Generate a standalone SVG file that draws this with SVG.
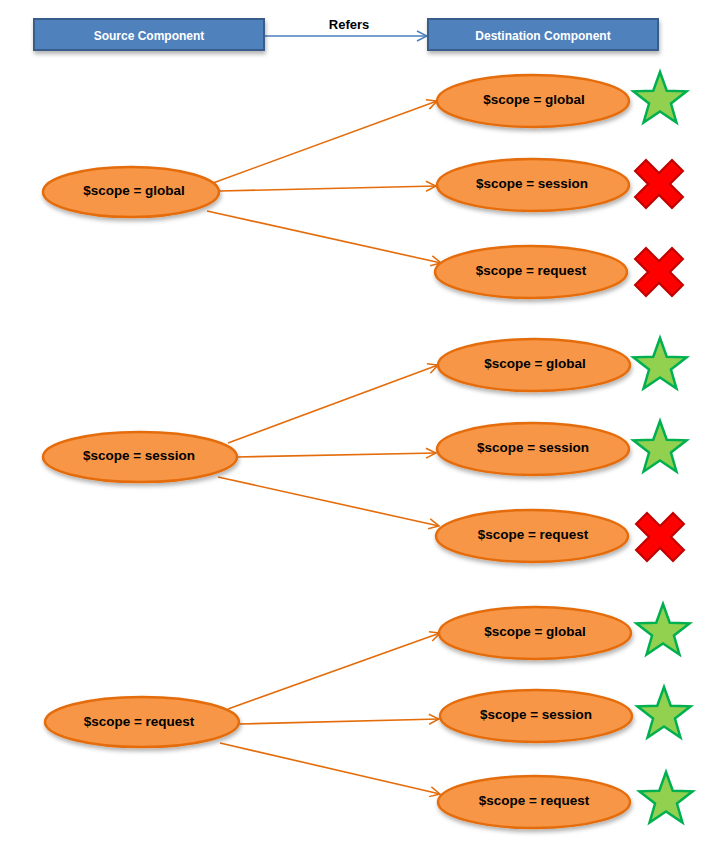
<svg xmlns="http://www.w3.org/2000/svg" width="720" height="851" viewBox="0 0 720 851">
<style>
.hdr{fill:#4F81BD;stroke:#385D8A;stroke-width:2}
.hdrt{fill:#fff;font-family:"Liberation Sans",Arial,sans-serif;font-weight:bold;font-size:12px;text-anchor:middle}
.ell{fill:#F79646;stroke:#E46C0A;stroke-width:2.5}
.lbl{fill:#000;font-family:"Liberation Sans",Arial,sans-serif;font-weight:bold;font-size:13.5px;text-anchor:middle}
.con{stroke:#E46C0A;stroke-width:1.6;fill:none;marker-end:url(#oa)}
.star{fill:#92D050;stroke:#00B050;stroke-width:2.5;stroke-linejoin:miter}
.cross{fill:#FF0000;stroke:#C00000;stroke-width:2}
</style>
<defs>
<filter id="sh" x="-20%" y="-20%" width="140%" height="160%">
<feDropShadow dx="1" dy="3" stdDeviation="2" flood-color="#000" flood-opacity="0.3"/>
</filter>
<marker id="oa" viewBox="0 0 12 12" refX="11" refY="6" markerWidth="12" markerHeight="12" markerUnits="userSpaceOnUse" orient="auto">
<path d="M1,1 L11,6 L1,11" fill="none" stroke="#E46C0A" stroke-width="1.5"/>
</marker>
<marker id="ob" viewBox="0 0 12 12" refX="11" refY="6" markerWidth="12" markerHeight="12" markerUnits="userSpaceOnUse" orient="auto">
<path d="M1,1 L11,6 L1,11" fill="none" stroke="#4A7EBB" stroke-width="1.5"/>
</marker>
<path id="starp" d="M0,-28 L6.76,-9.3 L26.63,-8.65 L10.94,3.55 L16.46,22.65 L0,11.5 L-16.46,22.65 L-10.94,3.55 L-26.63,-8.65 L-6.76,-9.3 Z"/>
<path id="crossp" d="M-24,-13 L-13,-24 L0,-11 L13,-24 L24,-13 L11,0 L24,13 L13,24 L0,11 L-13,24 L-24,13 L-11,0 Z"/>
</defs>
<rect width="720" height="851" fill="#fff"/>

<g id="connectors">
<line x1="264" y1="36" x2="427" y2="36" stroke="#4A7EBB" stroke-width="1.5" marker-end="url(#ob)"/>
<line class="con" x1="213" y1="183" x2="437" y2="101"/>
<line class="con" x1="220" y1="191" x2="436" y2="186"/>
<line class="con" x1="207" y1="211" x2="441" y2="263"/>
<line class="con" x1="228" y1="443" x2="438" y2="365"/>
<line class="con" x1="237" y1="457" x2="436" y2="453"/>
<line class="con" x1="218" y1="477" x2="439" y2="526"/>
<line class="con" x1="228" y1="709" x2="440" y2="633"/>
<line class="con" x1="240" y1="724" x2="439" y2="719"/>
<line class="con" x1="220" y1="743" x2="440" y2="794"/>
</g>
<text x="349" y="29" font-family="'Liberation Sans',Arial,sans-serif" font-weight="bold" font-size="13px" text-anchor="middle">Refers</text>

<g id="source-header"><rect class="hdr" x="34" y="19" width="230" height="31" filter="url(#sh)"/><text class="hdrt" x="149" y="39.5">Source Component</text></g>
<g id="dest-header"><rect class="hdr" x="428" y="19" width="230" height="31" filter="url(#sh)"/><text class="hdrt" x="543" y="39.5">Destination Component</text></g>

<g id="src-global"><ellipse class="ell" cx="131" cy="192" rx="88" ry="25" filter="url(#sh)"/><text class="lbl" x="134" y="195">$scope = global</text></g>
<g id="g-dst-global"><ellipse class="ell" cx="533" cy="101" rx="96" ry="26" filter="url(#sh)"/><text class="lbl" x="534" y="104">$scope = global</text></g>
<g id="g-dst-session"><ellipse class="ell" cx="533" cy="185" rx="96" ry="26" filter="url(#sh)"/><text class="lbl" x="532" y="188">$scope = session</text></g>
<g id="g-dst-request"><ellipse class="ell" cx="531" cy="272" rx="96" ry="26" filter="url(#sh)"/><text class="lbl" x="531" y="275">$scope = request</text></g>
<g id="g-mark-1"><use href="#starp" class="star" transform="translate(660,100)"/></g>
<g id="g-mark-2"><use href="#crossp" class="cross" transform="translate(659,184)"/></g>
<g id="g-mark-3"><use href="#crossp" class="cross" transform="translate(659,272)"/></g>

<g id="src-session"><ellipse class="ell" cx="140" cy="457" rx="97" ry="25" filter="url(#sh)"/><text class="lbl" x="139" y="460">$scope = session</text></g>
<g id="s-dst-global"><ellipse class="ell" cx="534" cy="365" rx="96" ry="26" filter="url(#sh)"/><text class="lbl" x="535" y="368">$scope = global</text></g>
<g id="s-dst-session"><ellipse class="ell" cx="533" cy="449" rx="96" ry="26" filter="url(#sh)"/><text class="lbl" x="533" y="452">$scope = session</text></g>
<g id="s-dst-request"><ellipse class="ell" cx="532" cy="536" rx="96" ry="26" filter="url(#sh)"/><text class="lbl" x="533" y="539">$scope = request</text></g>
<g id="s-mark-1"><use href="#starp" class="star" transform="translate(660,366)"/></g>
<g id="s-mark-2"><use href="#starp" class="star" transform="translate(660,449)"/></g>
<g id="s-mark-3"><use href="#crossp" class="cross" transform="translate(660,537)"/></g>

<g id="src-request"><ellipse class="ell" cx="142" cy="722" rx="97" ry="25" filter="url(#sh)"/><text class="lbl" x="139" y="726">$scope = request</text></g>
<g id="r-dst-global"><ellipse class="ell" cx="535" cy="633" rx="96" ry="26" filter="url(#sh)"/><text class="lbl" x="535" y="636">$scope = global</text></g>
<g id="r-dst-session"><ellipse class="ell" cx="536" cy="716" rx="96" ry="26" filter="url(#sh)"/><text class="lbl" x="536" y="719">$scope = session</text></g>
<g id="r-dst-request"><ellipse class="ell" cx="534" cy="802" rx="96" ry="26" filter="url(#sh)"/><text class="lbl" x="534" y="805">$scope = request</text></g>
<g id="r-mark-1"><use href="#starp" class="star" transform="translate(663,632)"/></g>
<g id="r-mark-2"><use href="#starp" class="star" transform="translate(664,715)"/></g>
<g id="r-mark-3"><use href="#starp" class="star" transform="translate(666,800)"/></g>
</svg>
